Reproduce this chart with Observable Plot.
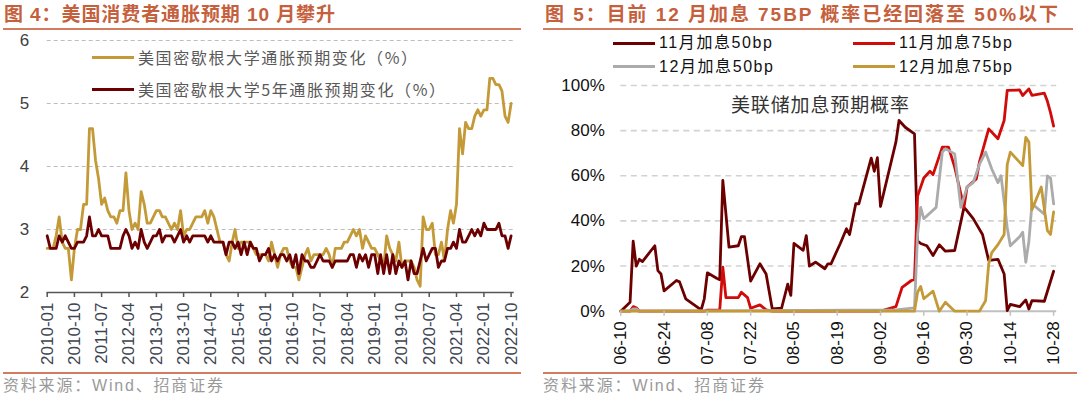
<!DOCTYPE html>
<html><head><meta charset="utf-8">
<script src="https://cdn.jsdelivr.net/npm/d3@7"></script>
<script src="https://cdn.jsdelivr.net/npm/@observablehq/plot@0.6"></script>
<style>
html,body{margin:0;padding:0;background:#fff}
body{width:1080px;height:398px;position:relative;overflow:hidden;font-family:"Liberation Sans","Noto Sans CJK SC",sans-serif}
.abs{position:absolute;white-space:nowrap}
.title{font-weight:bold;color:#C5603D;font-size:19px;line-height:20px;display:inline-block}
.rule{position:absolute;height:2px;background:#D27B5D}
.src{color:#9a9a9a;font-size:16px;line-height:18px;display:inline-block}
.leg{display:flex;align-items:center;height:20px}
.leg .ln{display:inline-block;width:42px;height:3px;margin-right:4px}
.leg .tx{display:inline-block;font-size:16px;line-height:20px}
</style></head>
<body>
<script>
// ---------- left chart data (monthly, 2010-01 .. 2022-10) ----------
const startMonth = "2010-01";
const endMonth = "2022-10";
const oneYear = [
2.7,2.7,2.7,2.9,3.2,2.8,2.7,2.7,2.2,2.7,
3.0,3.0,3.4,3.4,4.6,4.6,4.1,3.8,3.4,3.5,
3.3,3.2,3.2,3.1,3.3,3.3,3.9,3.3,3.0,3.1,
3.0,3.6,3.4,3.1,3.1,3.2,3.3,3.3,3.2,3.2,
3.1,3.0,3.1,3.0,3.3,2.9,3.0,3.0,3.1,3.2,
3.2,3.2,3.3,3.1,3.3,3.2,3.0,2.8,2.8,2.6,
2.5,2.8,3.0,2.7,2.8,2.8,2.8,2.8,2.7,2.6,
2.6,2.6,2.6,2.5,2.8,2.6,2.4,2.6,2.7,2.7,
2.5,2.4,2.4,2.2,2.4,2.6,2.7,2.5,2.6,2.6,
2.6,2.6,2.7,2.6,2.4,2.7,2.7,2.7,2.8,2.8,
2.9,3.0,2.9,3.0,2.7,2.9,2.8,2.7,2.7,2.6,
2.5,2.4,2.9,2.7,2.6,2.5,2.8,2.4,2.5,2.5,
2.5,2.4,2.2,2.1,3.2,3.0,3.0,3.1,2.6,2.6,
2.8,2.5,3.0,3.3,3.1,3.4,4.6,4.2,4.7,4.6,
4.6,4.8,4.9,4.8,4.9,4.9,5.4,5.4,5.3,5.3,
5.2,4.8,4.7,5.0];
const fiveYear = [
2.9,2.7,2.7,2.7,2.9,2.8,2.9,2.8,2.7,2.7,
2.8,2.8,2.8,2.9,3.2,2.9,2.9,3.0,2.9,2.9,
2.9,2.7,2.7,2.7,2.7,2.9,3.0,2.9,2.7,2.8,
2.7,3.0,2.8,2.7,2.8,2.9,2.9,3.0,2.8,2.9,
2.9,2.9,2.8,2.9,3.0,2.8,2.9,2.8,2.9,2.9,
2.9,2.9,2.9,2.8,2.9,2.8,2.8,2.8,2.8,2.6,
2.8,2.8,2.7,2.8,2.6,2.8,2.6,2.8,2.7,2.7,
2.5,2.6,2.6,2.7,2.5,2.6,2.5,2.6,2.6,2.5,
2.6,2.4,2.6,2.3,2.6,2.5,2.5,2.4,2.4,2.5,
2.6,2.5,2.5,2.5,2.4,2.5,2.5,2.5,2.5,2.5,
2.6,2.6,2.4,2.6,2.5,2.6,2.4,2.6,2.6,2.3,
2.6,2.3,2.6,2.3,2.6,2.3,2.5,2.4,2.5,2.2,
2.5,2.3,2.3,2.5,2.7,2.5,2.6,2.7,2.7,2.4,
2.5,2.5,2.7,2.7,2.8,2.7,3.0,2.8,2.8,2.9,
3.0,2.9,3.0,2.9,3.1,3.0,3.0,3.0,3.0,3.1,
2.9,2.9,2.7,2.9];
const leftXTicks = ["2010-01","2010-10","2011-07","2012-04","2013-01","2013-10","2014-07","2015-04","2016-01","2016-10","2017-07","2018-04","2019-01","2019-10","2020-07","2021-04","2022-01","2022-10"];
const leftYTicks = [2,3,4,5,6];
const leftNames = ["美国密歇根大学通胀预期变化（%）","美国密歇根大学5年通胀预期变化（%）"];

// ---------- right chart data (2022, probability %) ----------
const nov50 = [["06-10",0],["06-13",4],["06-14",31],["06-15",20],["06-16",23],["06-17",22],["06-21",29],["06-22",18],["06-23",16.5],["06-24",9],["06-28",13.6],["06-29",13],["07-01",5.5],["07-06",0.6],["07-07",5.5],["07-08",17],["07-11",14.6],["07-12",14],["07-13",58],["07-15",28.4],["07-18",29],["07-19",33],["07-20",33],["07-22",13.3],["07-25",21],["07-27",16.5],["07-29",1],["08-01",1.3],["08-03",12],["08-04",7],["08-05",30],["08-08",27],["08-09",33.5],["08-10",20],["08-12",21.7],["08-15",18.8],["08-16",21],["08-17",21],["08-20",30],["08-22",36.5],["08-23",34],["08-25",47.6],["08-26",47.6],["08-30",67.8],["08-31",62],["09-01",68],["09-02",46.4],["09-07",75],["09-08",84.5],["09-10",81.5],["09-13",78.6],["09-14",31],["09-15",30],["09-17",29],["09-19",24.7],["09-21",29.4],["09-23",26.6],["09-26",26.9],["09-29",46],["09-30",44.5],["10-02",41],["10-05",34],["10-07",22.5],["10-10",23],["10-12",16.5],["10-13",0.3],["10-14",3],["10-17",2],["10-19",5],["10-20",1],["10-21",4.7],["10-25",4.4],["10-28",17.7]];
const nov75 = [["06-10",0],["06-13",0],["06-14",2],["06-15",1.5],["06-16",0],["07-07",0],["07-08",0.5],["07-12",0.5],["07-13",19.5],["07-14",6],["07-18",6],["07-19",8.4],["07-21",6],["07-22",1.3],["07-25",2.8],["07-27",0.6],["07-29",0],["09-02",0],["09-07",2],["09-09",10.6],["09-12",13.6],["09-13",14],["09-14",51],["09-16",59],["09-18",62],["09-19",60.5],["09-22",72.7],["09-24",72.7],["09-26",63.8],["09-29",46],["09-30",55],["10-03",58.6],["10-04",66],["10-07",80.8],["10-10",76.4],["10-12",84.5],["10-13",97.8],["10-17",98],["10-18",95.6],["10-20",98.5],["10-21",95.6],["10-25",96.6],["10-26",93],["10-27",88],["10-28",82]];
const dec50 = [["06-10",0],["06-13",0],["06-14",1],["06-15",1],["06-16",0],["09-07",0.6],["09-13",1.5],["09-14",34],["09-15",46],["09-16",41],["09-20",46],["09-22",70.5],["09-23",72],["09-26",69.7],["09-28",46],["09-30",55],["10-02",57],["10-04",65],["10-06",70.5],["10-08",63],["10-10",57],["10-11",60],["10-13",37],["10-14",29],["10-17",33],["10-18",35],["10-19",21.7],["10-20",31],["10-21",47.6],["10-25",43],["10-26",60],["10-27",59],["10-28",47.6]];
const dec75 = [["06-10",0],["09-13",0],["09-14",8.4],["09-15",11],["09-16",5.5],["09-19",8.9],["09-21",0],["09-23",4],["09-26",0],["10-04",0],["10-06",4.7],["10-07",21],["10-08",26],["10-10",29.5],["10-12",34],["10-13",65],["10-14",70.5],["10-18",64.5],["10-19",77],["10-20",75],["10-21",45],["10-24",55],["10-26",35.7],["10-27",34],["10-28",44]];
const rightYear = 2022;
const rightXTicks = ["06-10","06-24","07-08","07-22","08-05","08-19","09-02","09-16","09-30","10-14","10-28"];
const rightYTicks = [0,20,40,60,80,100];
const rightNames = ["11月加息50bp","11月加息75bp","12月加息50bp","12月加息75bp"];

// colours
const GOLD = "#C39A37", DARK = "#6C0000", RED = "#D10A0A", GRAY = "#ABABAB";
</script>

<div class="abs" style="left:4px;top:5px"><span class="title" id="t1">图 4：美国消费者通胀预期 10 月攀升</span></div>
<div class="rule" style="left:3px;top:27.5px;width:518px"></div>
<div class="abs" style="left:545px;top:5px"><span class="title" id="t2">图 5：目前 12 月加息 75BP 概率已经回落至 50%以下</span></div>
<div class="rule" style="left:543px;top:27.5px;width:530px"></div>

<div class="abs" id="leftChart" style="left:0;top:30px"></div>
<div class="abs" id="rightChart" style="left:540px;top:78px"></div>

<div class="rule" style="left:3px;top:371.5px;width:518px"></div>
<div class="rule" style="left:543px;top:371.5px;width:534px"></div>
<div class="abs" style="left:3px;top:377px"><span class="src" id="s1">资料来源：Wind、招商证券</span></div>
<div class="abs" style="left:543px;top:377px"><span class="src" id="s2">资料来源：Wind、招商证券</span></div>

<div class="abs leg" style="left:92px;top:47.3px"><span class="ln" style="background:#C39A37"></span><span class="tx" id="l1" style="color:#595959;font-family:'Noto Sans CJK SC'"></span></div>
<div class="abs leg" style="left:92px;top:79px"><span class="ln" style="background:#6C0000"></span><span class="tx" id="l2" style="color:#595959;font-family:'Noto Sans CJK SC'"></span></div>

<div class="abs leg" style="left:613px;top:33.3px"><span class="ln" style="background:#6C0000"></span><span class="tx" id="r1" style="color:#111"></span></div>
<div class="abs leg" style="left:853px;top:33.3px"><span class="ln" style="background:#D10A0A"></span><span class="tx" id="r2" style="color:#111"></span></div>
<div class="abs leg" style="left:613px;top:56.7px"><span class="ln" style="background:#ABABAB"></span><span class="tx" id="r3" style="color:#111"></span></div>
<div class="abs leg" style="left:853px;top:56.7px"><span class="ln" style="background:#C39A37"></span><span class="tx" id="r4" style="color:#111"></span></div>

<div class="abs" style="left:731px;top:93px"><span id="ann" style="display:inline-block;font-size:19px;line-height:22px;color:#333;font-family:'Noto Sans CJK SC'">美联储加息预期概率</span></div>

<script>
const parseMonth = d3.utcParse("%Y-%m");
const months = d3.utcMonth.range(parseMonth(startMonth), d3.utcMonth.offset(parseMonth(endMonth), 1));
const leftRows = months.map((d, i) => ({date: d, oneYear: oneYear[i], fiveYear: fiveYear[i]}));

const left = Plot.plot({
  width: 530, height: 342,
  marginLeft: 46.7, marginRight: 16.3, marginTop: 10, marginBottom: 80,
  style: {fontFamily: "'Liberation Sans', Arial, sans-serif", background: "transparent", overflow: "visible"},
  x: {type: "utc", domain: [parseMonth(startMonth), d3.utcMonth.offset(parseMonth(endMonth), 1)]},
  y: {domain: [leftYTicks[0], leftYTicks[leftYTicks.length - 1]]},
  marks: [
    Plot.gridY(leftYTicks.slice(1), {stroke: "#bdbdbd", strokeOpacity: 1, strokeDasharray: "4,3"}),
    Plot.ruleY([leftYTicks[0]], {stroke: "#555", strokeWidth: 1.5}),
    Plot.lineY(leftRows, {x: "date", y: "oneYear", stroke: GOLD, strokeWidth: 2.8}),
    Plot.lineY(leftRows, {x: "date", y: "fiveYear", stroke: DARK, strokeWidth: 2.8}),
    Plot.axisX(leftXTicks.map(parseMonth), {tickRotate: -90, tickSize: 5, tickPadding: 5, tickFormat: d3.utcFormat("%Y-%m"), fontSize: 17, fill: "#3d4552", stroke: "#555", strokeWidth: 1.5, label: null}),
    Plot.axisY(leftYTicks, {tickSize: 0, tickPadding: 18, tickFormat: d => String(d), fontSize: 17, fill: "#404040", label: null})
  ]
});
document.getElementById("leftChart").appendChild(left);

const P = s => new Date(`${rightYear}-${s}T00:00:00Z`);
const toRows = arr => arr.map(([d, v]) => ({date: P(d), v}));
const right = Plot.plot({
  width: 540, height: 294,
  marginLeft: 80.3, marginRight: 23.8, marginTop: 7, marginBottom: 61.3,
  style: {fontFamily: "'Liberation Sans', Arial, sans-serif", background: "transparent", overflow: "visible"},
  x: {type: "utc", domain: [P(rightXTicks[0]), d3.utcDay.offset(P(rightXTicks[rightXTicks.length - 1]), 1)]},
  y: {domain: [0, 100]},
  marks: [
    Plot.gridY(rightYTicks.slice(1), {stroke: "#d2d2d2", strokeOpacity: 1, strokeWidth: 1.6, strokeDasharray: "6,4.5"}),
    Plot.ruleY([0], {stroke: "#c0c0c0", strokeWidth: 2}),
    Plot.lineY(toRows(nov50), {x: "date", y: "v", stroke: DARK, strokeWidth: 2.8}),
    Plot.lineY(toRows(nov75), {x: "date", y: "v", stroke: RED, strokeWidth: 2.8}),
    Plot.lineY(toRows(dec50), {x: "date", y: "v", stroke: GRAY, strokeWidth: 2.8}),
    Plot.lineY(toRows(dec75), {x: "date", y: "v", stroke: GOLD, strokeWidth: 2.8}),
    Plot.axisX(rightXTicks.map(P), {tickRotate: -90, tickSize: 5, tickPadding: 5, tickFormat: d3.utcFormat("%m-%d"), fontSize: 17, fill: "#111", stroke: "#c0c0c0", strokeWidth: 1.5, label: null}),
    Plot.axisY(rightYTicks, {tickSize: 0, tickPadding: 16, tickFormat: d => d + "%", fontSize: 17, fill: "#111", label: null})
  ]
});
document.getElementById("rightChart").appendChild(right);

document.getElementById("l1").textContent = leftNames[0];
document.getElementById("l2").textContent = leftNames[1];
["r1","r2","r3","r4"].forEach((id, i) => document.getElementById(id).textContent = rightNames[i]);

function fit(id, target) {
  const el = document.getElementById(id);
  el.style.letterSpacing = "0px";
  const w = el.getBoundingClientRect().width;
  const n = [...el.textContent].length;
  el.style.letterSpacing = ((target - w) / (n - 1)) + "px";
}
function fitAll() {
  fit("t1", 331); fit("t2", 513);
  fit("l1", 279); fit("l2", 307);
  fit("r1", 113); fit("r2", 113); fit("r3", 114); fit("r4", 113);
  fit("ann", 178); fit("s1", 220); fit("s2", 221);
}
fitAll();
if (document.fonts && document.fonts.ready) document.fonts.ready.then(fitAll);
</script>
</body></html>
